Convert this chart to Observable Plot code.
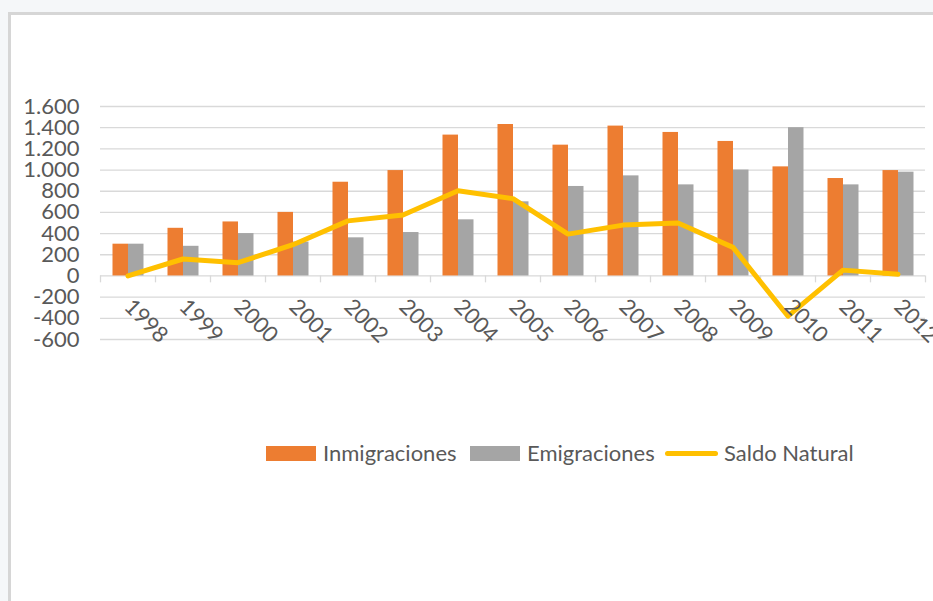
<!DOCTYPE html>
<html>
<head>
<meta charset="utf-8">
<script src="https://cdn.jsdelivr.net/npm/d3@7"></script>
<script src="https://cdn.jsdelivr.net/npm/@observablehq/plot@0.6"></script>
<style>
  html, body { margin: 0; padding: 0; width: 933px; height: 601px; overflow: hidden; background: #f5f7f9; font-family: Lato, "Open Sans", sans-serif; }
  #frame { position: absolute; left: 8px; top: 12px; width: 940px; height: 600px; background: #fff; border-left: 3px solid #d6d6d6; border-top: 3px solid #d6d6d6; box-sizing: border-box; }
  #chart { position: absolute; left: 0; top: 0; }
  #legend { position: absolute; left: 0; top: 0; width: 933px; height: 601px; pointer-events: none; }
  .sw { position: absolute; }
  .lt { position: absolute; font-size: 22px; color: #595959; line-height: 24px; top: 441px; white-space: nowrap; }
</style>
</head>
<body>
<div id="frame"></div>
<div id="chart"></div>
<div id="legend"></div>
<script>
const years = ["1998","1999","2000","2001","2002","2003","2004","2005","2006","2007","2008","2009","2010","2011","2012"];
const inmigraciones = [300, 450, 510, 600, 885, 995, 1330, 1430, 1235, 1415, 1355, 1270, 1030, 920, 995];
const emigraciones  = [300, 280, 400, 320, 360, 410, 530, 700, 845, 945, 860, 1000, 1400, 860, 980];
const saldoNatural  = [0, 160, 125, 295, 520, 575, 805, 730, 395, 480, 500, 270, -380, 55, 15];
const yTicks = [-600, -400, -200, 0, 200, 400, 600, 800, 1000, 1200, 1400, 1600];
const seriesNames = ["Inmigraciones", "Emigraciones", "Saldo Natural"];
const colors = ["#ED7D31", "#A5A5A5", "#FFC000"];

const rows = years.map((y, i) => ({year: y, inm: inmigraciones[i], emi: emigraciones[i], sal: saldoNatural[i]}));

const es = d3.formatLocale({decimal: ",", thousands: ".", grouping: [3], currency: ["", "€"], minus: "-"});
const fmt = es.format(",");

const chart = Plot.plot({
  width: 933,
  height: 400,
  marginLeft: 100,
  marginRight: 8,
  marginTop: 106,
  marginBottom: 61,
  style: {fontFamily: "Lato, 'Open Sans', sans-serif", background: "transparent", overflow: "visible"},
  x: {type: "band", domain: years, padding: 0, axis: null},
  y: {domain: [-600, 1600], axis: null},
  marks: [
    Plot.ruleY(yTicks, {stroke: "#d9d9d9", strokeWidth: 1.3}),
    Plot.ruleX(years, {x: d => d, y1: 0, y2: -65, dx: -27.5, stroke: "#d9d9d9", strokeWidth: 1.3}),
    Plot.ruleX([years[years.length - 1]], {x: d => d, y1: 0, y2: -65, dx: 27.5, stroke: "#d9d9d9", strokeWidth: 1.3}),
    Plot.barY(rows, {x: "year", y: "inm", fill: colors[0], insetLeft: 12.5, insetRight: 27}),
    Plot.barY(rows, {x: "year", y: "emi", fill: colors[1], insetLeft: 28, insetRight: 11.5}),
    Plot.line(rows, {x: "year", y: "sal", stroke: colors[2], strokeWidth: 5, strokeLinejoin: "round", strokeLinecap: "round"}),
    Plot.text(yTicks, {x: () => years[0], y: d => d, text: d => fmt(d), textAnchor: "end", dx: -48.5, fontSize: 22, fill: "#595959"}),
    Plot.text(years, {x: d => d, y: () => 0, text: d => d, rotate: 45, textAnchor: "middle", lineAnchor: "middle", dx: 18, dy: 45, fontSize: 22, fill: "#595959"})
  ]
});
document.getElementById("chart").appendChild(chart);

// legend
const leg = document.getElementById("legend");
const items = [
  {name: seriesNames[0], color: colors[0], type: "box", sx: 266, tx: 323},
  {name: seriesNames[1], color: colors[1], type: "box", sx: 470, tx: 527},
  {name: seriesNames[2], color: colors[2], type: "line", sx: 665, tx: 724}
];
for (const it of items) {
  const sw = document.createElement("div");
  sw.className = "sw";
  if (it.type === "box") {
    Object.assign(sw.style, {left: it.sx + "px", top: "446px", width: "50px", height: "15px", background: it.color});
  } else {
    Object.assign(sw.style, {left: it.sx + "px", top: "451px", width: "53px", height: "4.5px", background: it.color, borderRadius: "3px"});
  }
  leg.appendChild(sw);
  const t = document.createElement("div");
  t.className = "lt";
  t.style.left = it.tx + "px";
  t.textContent = it.name;
  leg.appendChild(t);
}
</script>
</body>
</html>
